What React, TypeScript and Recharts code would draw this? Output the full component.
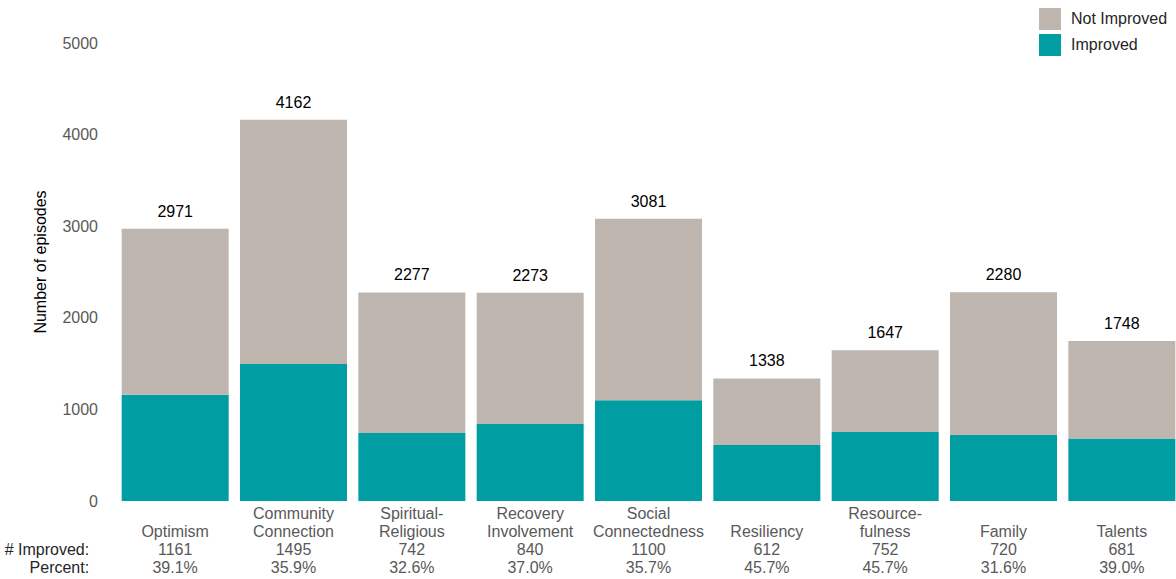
import { BarChart, Bar, XAxis, YAxis, Legend, LabelList } from "recharts";

const categoryLines: string[][] = [
  ["Optimism"],
  ["Community", "Connection"],
  ["Spiritual-", "Religious"],
  ["Recovery", "Involvement"],
  ["Social", "Connectedness"],
  ["Resiliency"],
  ["Resource-", "fulness"],
  ["Family"],
  ["Talents"],
];
const improved = [1161, 1495, 742, 840, 1100, 612, 752, 720, 681];
const totals = [2971, 4162, 2277, 2273, 3081, 1338, 1647, 2280, 1748];
const percents = ["39.1%", "35.9%", "32.6%", "37.0%", "35.7%", "45.7%", "45.7%", "31.6%", "39.0%"];
const yTicks = [0, 1000, 2000, 3000, 4000, 5000];

const FONT = "'Liberation Sans', Arial, sans-serif";
const TEAL = "#009DA3";
const GREY = "#BEB5AF";

const data = categoryLines.map((lines, i) => ({
  name: lines.join(" "),
  improved: improved[i],
  notImproved: totals[i] - improved[i],
  total: totals[i],
}));

// category name (bottom aligned to 2 lines), count, percent
const CategoryTick = ({ x, y, payload, index }: any) => {
  const i = payload?.index ?? index;
  const lines = categoryLines[i];
  const nameRows = lines.length === 1 ? [null, lines[0]] : lines;
  return (
    <g fontFamily={FONT} fontSize={16} fill="#595959">
      {nameRows.map((t, k) =>
        t ? (
          <text key={k} x={x} y={y + 18 + k * 18} textAnchor="middle" fill="#595959">
            {t}
          </text>
        ) : null
      )}
      <text x={x} y={y + 54} textAnchor="middle" fill="#595959">
        {improved[i]}
      </text>
      <text x={x} y={y + 72} textAnchor="middle" fill="#595959">
        {percents[i]}
      </text>
      {i === 0 && (
        <>
          <text x={x - 86} y={y + 54} textAnchor="end" fill="#262626">
            # Improved:
          </text>
          <text x={x - 86} y={y + 72} textAnchor="end" fill="#262626">
            Percent:
          </text>
        </>
      )}
    </g>
  );
};

const YLabel = ({ viewBox }: any) => {
  const cx = 40;
  const cy = viewBox.y + viewBox.height / 2 - 10;
  return (
    <text
      x={cx}
      y={cy}
      transform={`rotate(-90 ${cx} ${cy})`}
      textAnchor="middle"
      dominantBaseline="central"
      fontFamily={FONT}
      fontSize={16}
      fill="#000"
    >
      Number of episodes
    </text>
  );
};

const LegendBox = () => {
  const items = [
    { label: "Not Improved", color: GREY },
    { label: "Improved", color: TEAL },
  ];
  return (
    <div style={{ fontFamily: FONT, fontSize: 16, color: "#262626" }}>
      {items.map((it) => (
        <div key={it.label} style={{ display: "flex", alignItems: "center", height: 26 }}>
          <span style={{ width: 22, height: 22, background: it.color, marginRight: 10 }} />
          <span>{it.label}</span>
        </div>
      ))}
    </div>
  );
};

export default function App() {
  return (
    <div
      style={{
        position: "absolute",
        left: 0,
        top: 0,
        width: 1176,
        height: 579,
        overflow: "hidden",
        background: "#fff",
      }}
    >
      <BarChart
        width={1181}
        height={579}
        data={data}
        margin={{ top: 43, right: 0, left: 0, bottom: 0 }}
        barCategoryGap="4.8%"
      >
        <XAxis
          dataKey="name"
          axisLine={false}
          tickLine={false}
          tickSize={0}
          tickMargin={0}
          interval={0}
          height={78}
          tick={<CategoryTick />}
        />
        <YAxis
          domain={[0, 5000]}
          ticks={yTicks}
          axisLine={false}
          tickLine={false}
          width={116}
          tickMargin={12}
          tick={{ fontFamily: FONT, fontSize: 16, fill: "#595959" }}
          label={<YLabel />}
        />
        <Legend
          layout="horizontal"
          verticalAlign="middle"
          align="center"
          wrapperStyle={{ top: 6, left: 1039, width: 140 }}
          content={<LegendBox />}
        />
        <Bar dataKey="improved" stackId="a" fill={TEAL} isAnimationActive={false} />
        <Bar dataKey="notImproved" stackId="a" fill={GREY} isAnimationActive={false}>
          <LabelList
            dataKey="total"
            position="top"
            offset={12}
            style={{ fontFamily: FONT, fontSize: 16, fill: "#000" }}
          />
        </Bar>
      </BarChart>
    </div>
  );
}
